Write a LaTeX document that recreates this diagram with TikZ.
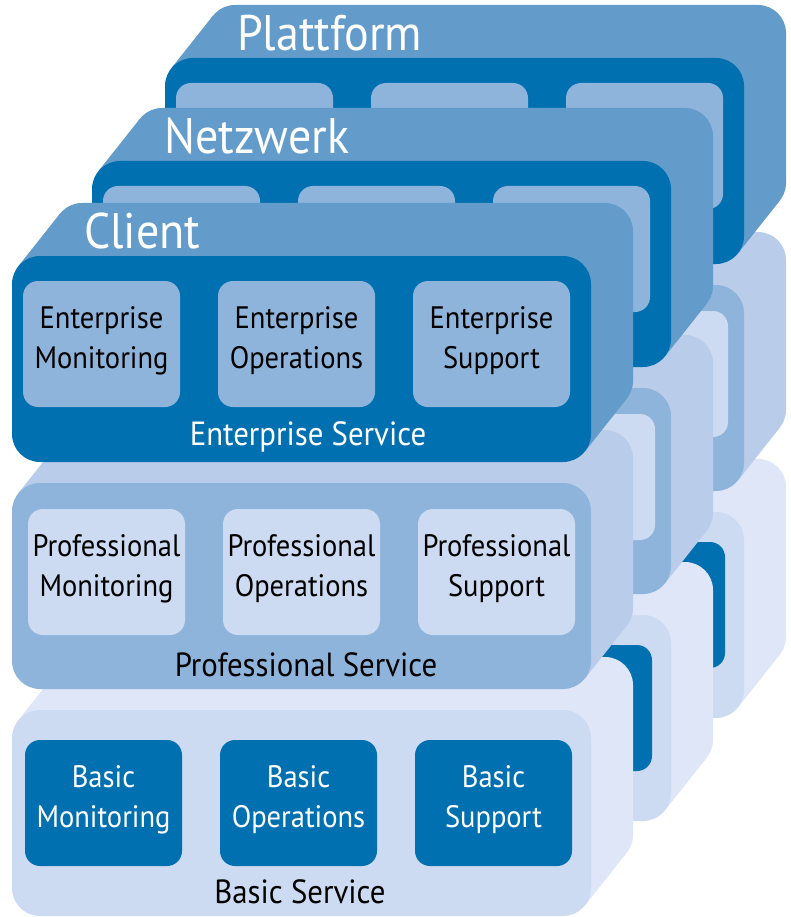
\documentclass[tikz,border=0pt]{standalone}
\usepackage{fontspec}
\setmainfont{PT Sans}[FakeStretch=0.92]
\usepackage{tikz}
\definecolor{deep}{RGB}{0,112,176}
\definecolor{mid}{RGB}{99,156,203}
\definecolor{soft}{RGB}{143,180,219}
\definecolor{softer}{RGB}{185,205,234}
\definecolor{faint}{RGB}{204,219,241}
\definecolor{fainter}{RGB}{222,230,247}
% one slab of a column: #1 top of front face, #2/#3 offset of first box,
% #4 front, #5 side, #6 boxes
\def\slab#1#2#3#4#5#6{
  \fill[#5,rounded corners=28pt] (42,#1-53) rectangle +(579,206);
  \fill[#5] (6,#1+10.6) -- ++(42,-53) -- (615,#1+142.4) -- ++(-42,53) -- cycle;
  \fill[#4,rounded corners=28pt] (0,#1) rectangle +(579,206);
  \foreach \b in {0,195,390}
    \fill[#6,rounded corners=15pt] (#2+\b,#1+#3) rectangle +(157,126);
}

\begin{document}
\begin{tikzpicture}[x=1pt,y=-1pt,
  boxtext/.style={font=\fontsize{31}{40}\selectfont,align=center,inner sep=0},
  servicetext/.style={font=\fontsize{33.5}{38}\selectfont,anchor=base,inner sep=0},
  columntext/.style={font=\fontsize{50}{60}\selectfont,text=white,anchor=base west,inner sep=0}]
\useasboundingbox (0,0) rectangle (790,917);

% Plattform
\begin{scope}[shift={(165,58)}]
\slab{454}{13}{30}{faint}{fainter}{deep}
\slab{227}{16}{26}{soft}{softer}{faint}
\slab{0}{11}{25}{deep}{mid}{soft}
\node[columntext] (plattform) at (72,-7) {Plattform};
\end{scope}

% Netzwerk
\begin{scope}[shift={(92,161)}]
\slab{454}{13}{30}{faint}{fainter}{deep}
\slab{227}{16}{26}{soft}{softer}{faint}
\slab{0}{11}{25}{deep}{mid}{soft}
\node[columntext] (netzwerk) at (72,-7) {Netzwerk};
\end{scope}

% Client
\begin{scope}[shift={(12,256)}]
\slab{454}{13}{30}{faint}{fainter}{deep}
\slab{227}{16}{26}{soft}{softer}{faint}
\slab{0}{11}{25}{deep}{mid}{soft}
\node[columntext] (client) at (72,-8) {Client};

\foreach \n/\t [count=\i from 0] in {mon/Monitoring,ops/Operations,sup/Support}{
  \node[boxtext] (ent-\n) at (89.5+195*\i,85) {Enterprise\\\t};
  \node[boxtext] (pro-\n) at (94.5+195*\i,313) {Professional\\\t};
  \node[boxtext,text=white] (bas-\n) at (91.5+195*\i,543.5) {Basic\\\t};
}
\node[servicetext,text=white] (ent) at (296,189) {Enterprise Service};
\node[servicetext] (pro) at (294,420) {Professional Service};
\node[servicetext] (bas) at (288,647) {Basic Service};
\end{scope}
\end{tikzpicture}
\end{document}
